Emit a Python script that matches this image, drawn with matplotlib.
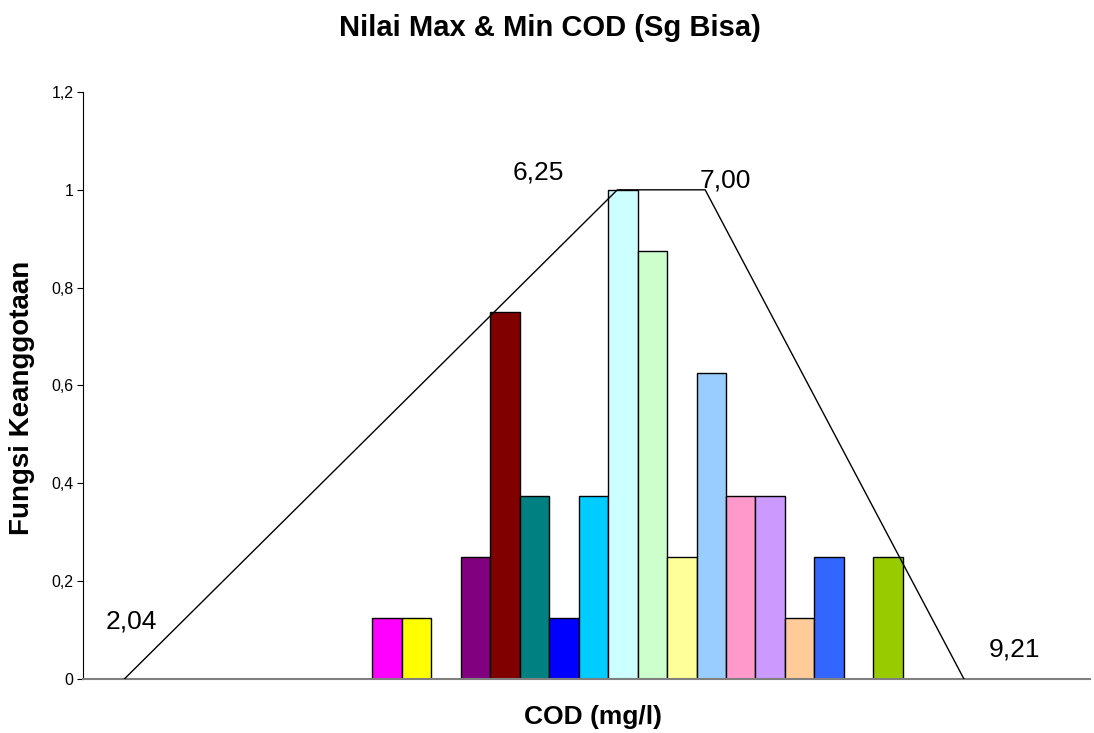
import matplotlib.pyplot as plt
import numpy as np

plt.rcParams['font.family'] = ['Liberation Sans', 'DejaVu Sans']

# histogram bars (membership frequency), one slot per COD class
slot_heights = [0.125, 0.125, 0, 0.25, 0.75, 0.375, 0.125, 0.375, 1.0,
                0.875, 0.25, 0.625, 0.375, 0.375, 0.125, 0.25, 0, 0.25]
slot_colors = ['#FF00FF', '#FFFF00', None, '#800080', '#800000', '#008080',
               '#0000FF', '#00CCFF', '#CCFFFF', '#CCFFCC', '#FFFF99', '#99CCFF',
               '#FF99CC', '#CC99FF', '#FFCC99', '#3366FF', None, '#99CC00']

# trapezoid membership function
cod_points = [2.04, 6.25, 7.00, 9.21]
mu_points = [0, 1, 1, 0]
cod_labels = ['2,04', '6,25', '7,00', '9,21']
label_offsets = [(7, 57), (-79, 17), (20, 9), (51, 29)]

yticks = [0, 0.2, 0.4, 0.6, 0.8, 1, 1.2]
ytick_labels = ['0', '0,2', '0,4', '0,6', '0,8', '1', '1,2']

fig = plt.figure(figsize=(10.94, 7.33), dpi=100)
ax = fig.add_axes([0.0759, 0.0737, 0.9204, 0.8008])

idx = np.arange(len(slot_heights))
keep = [i for i in idx if slot_heights[i] > 0]
ax.bar([idx[i] for i in keep], [slot_heights[i] for i in keep], width=1.0,
       color=[slot_colors[i] for i in keep], edgecolor='black', linewidth=1.0,
       zorder=2)
ax.set_xlim(-10.30, 23.84)
ax.set_ylim(0, 1.2)
ax.set_yticks(yticks)
ax.set_yticklabels(ytick_labels, fontsize=11.5)
ax.set_xticks([])
ax.tick_params(axis='y', direction='out', length=4, width=0.8, pad=3)
for s in ['top', 'right']:
    ax.spines[s].set_visible(False)
ax.spines['bottom'].set_color('#808080')
ax.spines['bottom'].set_linewidth(1.5)
ax.spines['left'].set_linewidth(0.8)

# secondary x axis in COD units for the membership line
ax2 = ax.twiny()
ax2.set_xlim(1.687, 10.286)
ax2.set_ylim(0, 1.2)
ax2.axis('off')
ax2.plot(cod_points, mu_points, color='black', linewidth=1.0, zorder=3)
for x, y, lab, off in zip(cod_points, mu_points, cod_labels, label_offsets):
    ax2.annotate(lab, xy=(x, y), xytext=off, textcoords='offset pixels',
                 ha='center', va='center', fontsize=19)

fig.text(0.503, 0.962, 'Nilai Max & Min COD (Sg Bisa)', ha='center',
         va='center', fontsize=21, fontweight='bold')
fig.text(0.542, 0.022, 'COD (mg/l)', ha='center', va='center',
         fontsize=19, fontweight='bold')
fig.text(0.0205, 0.457, 'Fungsi Keanggotaan', ha='center', va='center',
         rotation=90, fontsize=20, fontweight='bold')

fig.savefig('out.png', dpi=100)
